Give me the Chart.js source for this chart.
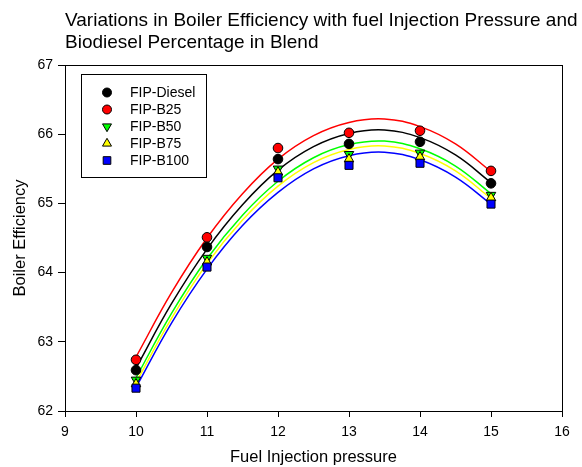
<!DOCTYPE html>
<html>
<head>
<meta charset="utf-8">
<script src="https://cdn.jsdelivr.net/npm/chart.js@4.4.1/dist/chart.umd.min.js"></script>
<style>
  html,body{margin:0;padding:0;background:#fff;}
  #wrap{width:582px;height:467px;position:relative;}
</style>
</head>
<body>
<div id="wrap"><canvas id="boilerChart" width="582" height="467"></canvas></div>
<script>
// measured points
var pressure = [10, 11, 12, 13, 14, 15];
var diesel = [62.59, 64.37, 65.64, 65.86, 65.89, 65.29];
var b25    = [62.74, 64.51, 65.80, 66.02, 66.05, 65.47];
var b50    = [62.45, 64.21, 65.50, 65.71, 65.73, 65.12];
var b75    = [62.39, 64.15, 65.45, 65.64, 65.67, 65.08];
var b100   = [62.33, 64.08, 65.37, 65.55, 65.58, 64.99];

// fit curves, every half unit
var fitX = [10, 10.5, 11, 11.5, 12, 12.5, 13, 13.5, 14, 14.5, 15];
var fitDiesel = [62.62, 63.55, 64.34, 64.98, 65.48, 65.82, 66.01, 66.06, 65.95, 65.70, 65.30];
var fitB25    = [62.78, 63.71, 64.50, 65.14, 65.64, 65.98, 66.17, 66.22, 66.11, 65.86, 65.46];
var fitB50    = [62.48, 63.41, 64.20, 64.83, 65.32, 65.66, 65.85, 65.90, 65.79, 65.54, 65.14];
var fitB75    = [62.41, 63.34, 64.13, 64.76, 65.25, 65.59, 65.78, 65.83, 65.72, 65.47, 65.07];
var fitB100   = [62.34, 63.27, 64.05, 64.68, 65.16, 65.50, 65.69, 65.74, 65.63, 65.38, 64.99];

var xTicks = [9, 10, 11, 12, 13, 14, 15, 16];
var yTicks = [62, 63, 64, 65, 66, 67];
var titleLines = ['Variations in Boiler Efficiency with fuel Injection Pressure and', 'Biodiesel Percentage in Blend'];
var names = ['FIP-Diesel', 'FIP-B25', 'FIP-B50', 'FIP-B75', 'FIP-B100'];

var fnt = 'Arial, "Liberation Sans", sans-serif';

function pts(xs, ys){
  return xs.map(function(x, i){ return {x:x, y:ys[i]}; });
}
function markSize(style){
  if(style=='rect') return 5.7;
  if(style=='triangle') return 5.5;
  return 4.8;
}

var series = [
  {name:names[0], vals:diesel, fit:fitDiesel, color:'#000000', style:'circle', rot:0, order:5},
  {name:names[1], vals:b25,    fit:fitB25,    color:'#ff0000', style:'circle', rot:0, order:4},
  {name:names[2], vals:b50,    fit:fitB50,    color:'#00ff00', style:'triangle', rot:180, order:3},
  {name:names[3], vals:b75,    fit:fitB75,    color:'#ffff00', style:'triangle', rot:0, order:2},
  {name:names[4], vals:b100,   fit:fitB100,   color:'#0000ff', style:'rect', rot:0, order:1}
];

var datasets = [];
series.forEach(function(s){
  datasets.push({
    type:'line', label:s.name + ' fit', data:pts(fitX, s.fit),
    borderColor:s.color, borderWidth:1.5, pointRadius:0, tension:0.4,
    fill:false, order:10
  });
});
series.forEach(function(s){
  datasets.push({
    type:'scatter', label:s.name, data:pts(pressure, s.vals),
    pointStyle:s.style, rotation:s.rot, pointRadius:markSize(s.style),
    backgroundColor:s.color, borderColor:'#000', borderWidth:1, order:s.order
  });
});

var framePlugin = {
  id:'frame',
  afterDraw:function(chart){
    var c = chart.ctx, a = chart.chartArea;
    c.save();
    c.strokeStyle = '#000'; c.lineWidth = 1;
    c.strokeRect(Math.round(a.left)+0.5, Math.round(a.top)+0.5, Math.round(a.right-a.left), Math.round(a.bottom-a.top));

    // title
    c.fillStyle = '#000';
    c.font = '19px ' + fnt;
    c.textBaseline = 'alphabetic';
    c.textAlign = 'left';
    c.fillText(titleLines[0], 65, 26);
    c.fillText(titleLines[1], 65, 48);

    // legend
    var lx = 81.5, ly = 74.5, lw = 125, lh = 103;
    c.strokeRect(lx, ly, lw, lh);
    c.font = '14px ' + fnt;
    c.textBaseline = 'middle';
    series.forEach(function(s, i){
      var y = 92.5 + i * 17;
      c.fillStyle = s.color; c.strokeStyle = '#000'; c.lineWidth = 1;
      Chart.helpers.drawPoint(c, {pointStyle:s.style, rotation:s.rot, radius:markSize(s.style) - 0.3, borderWidth:1}, 107, y);
      c.fillStyle = '#000';
      c.fillText(s.name, 130, y + 1);
    });
    c.restore();
  }
};

new Chart(document.getElementById('boilerChart').getContext('2d'), {
  type:'scatter',
  data:{ datasets:datasets },
  options:{
    responsive:false,
    animation:false,
    layout:{ padding:{ left:6, top:65, right:20, bottom:0 } },
    plugins:{ legend:{ display:false }, title:{ display:false }, tooltip:{ enabled:false } },
    scales:{
      x:{
        type:'linear', min:9, max:16,
        afterBuildTicks:function(s){ s.ticks = xTicks.map(function(v){ return {value:v}; }); },
        afterFit:function(s){ s.height = 56; },
        grid:{ drawOnChartArea:false, tickLength:6, color:'#000' },
        border:{ color:'#000', width:1 },
        ticks:{ color:'#000', font:{ family:fnt, size:14 }, padding:7, maxRotation:0 },
        title:{ display:true, text:'Fuel Injection pressure', color:'#000', font:{ family:fnt, size:16.5 }, padding:{ top:10, bottom:0 } }
      },
      y:{
        type:'linear', min:62, max:67,
        afterBuildTicks:function(s){ s.ticks = yTicks.map(function(v){ return {value:v}; }); },
        afterFit:function(s){ s.width = 59; },
        grid:{ drawOnChartArea:false, tickLength:7, color:'#000' },
        border:{ color:'#000', width:1 },
        ticks:{ color:'#000', font:{ family:fnt, size:14 }, padding:5 },
        title:{ display:true, text:'Boiler Efficiency', color:'#000', font:{ family:fnt, size:16.5 }, padding:{ top:5, bottom:4 } }
      }
    }
  },
  plugins:[framePlugin]
});
</script>
</body>
</html>
